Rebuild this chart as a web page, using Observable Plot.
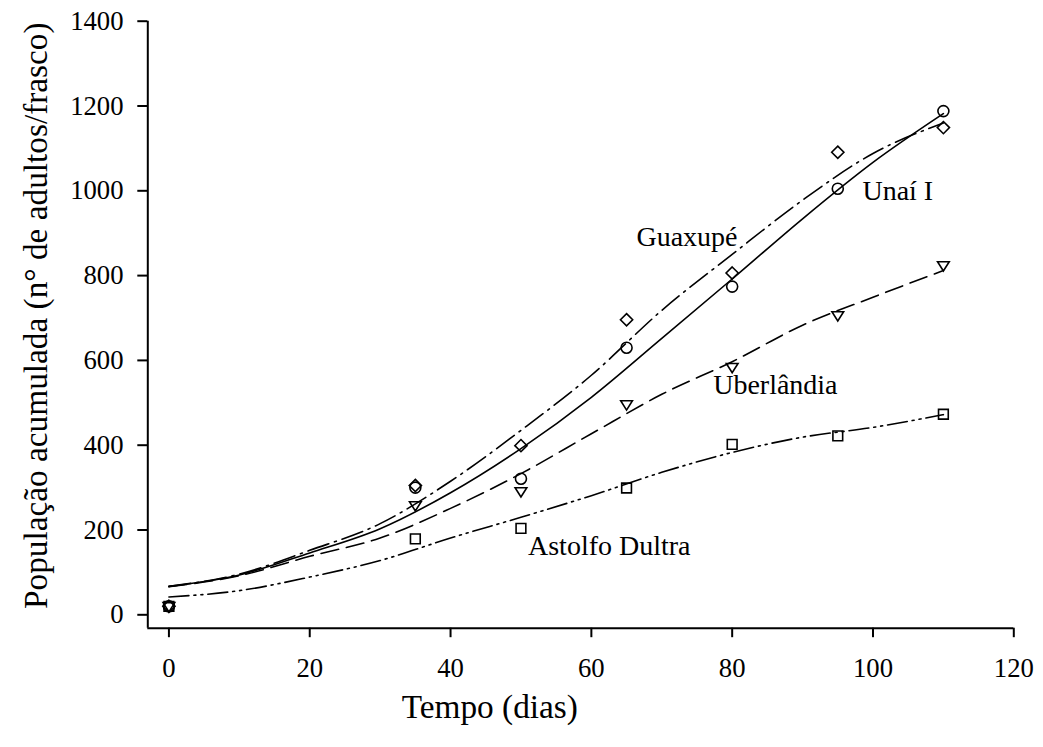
<!DOCTYPE html>
<html><head><meta charset="utf-8">
<script src="https://cdn.jsdelivr.net/npm/d3@7"></script>
<script src="https://cdn.jsdelivr.net/npm/@observablehq/plot@0.6"></script>
<style>
body{margin:0;background:#fff}
#chart{font-family:"Liberation Serif","Times New Roman",serif}
</style>
</head><body><div id="chart"></div>
<script>
// Observed points
const days = [0, 35, 50, 65, 80, 95, 110];
const unaiObs = [20, 300, 321, 630, 774, 1005, 1188];
const guaxupeObs = [20, 305, 399, 696, 806, 1091, 1149];
const uberlandiaObs = [20, 258, 291, 496, 584, 706, 824];
const astolfoObs = [20, 179, 204, 299, 402, 422, 473];

// Fitted curves
const fitDays = [0, 10, 20, 30, 40, 50, 60, 70, 80, 90, 100, 110];
const unaiFit = [67, 94, 146, 203, 288, 392, 513, 652, 792, 934, 1067, 1182];
const guaxupeFit = [67, 96, 152, 215, 315, 435, 565, 718, 850, 978, 1088, 1160];
const uberlandiaFit = [66, 92, 138, 181, 251, 333, 427, 520, 597, 683, 749, 812];
const astolfoFit = [42, 57, 89, 128, 181, 230, 281, 336, 383, 419, 442, 472];

// Series labels and their anchor positions (data units)
const seriesNames = ["Unaí I", "Guaxupé", "Uberlândia", "Astolfo Dultra"];
const labelX = [98.5, 66.4, 77.3, 51.0];
const labelY = [1000, 890, 543, 163];

const xTicks = [0, 20, 40, 60, 80, 100, 120];
const yTicks = [0, 200, 400, 600, 800, 1000, 1200, 1400];
const xDomain = [-3, 120];
const yDomain = [-31.6, 1400];
const xTitle = "Tempo (dias)";
const yTitle = "População acumulada (n° de adultos/frasco)";

const obs = [unaiObs, guaxupeObs, uberlandiaObs, astolfoObs];
const fits = [unaiFit, guaxupeFit, uberlandiaFit, astolfoFit];
const dashes = [null, "22,6,2,6", "18,8", "20,5,2,5,2,5"];

const triangleDown = {
  draw(context, size) {
    const s = Math.sqrt(size);
    const hw = s * 0.6, h = s * 0.95;
    context.moveTo(-hw, -h * 0.4);
    context.lineTo(hw, -h * 0.4);
    context.lineTo(0, h * 0.6);
    context.closePath();
  }
};
const symbols = ["circle", "diamond2", triangleDown, "square"];

const fitRows = (i) => fitDays.map((d, k) => ({x: d, y: fits[i][k]}));
const obsRows = (i) => days.map((d, k) => ({x: d, y: obs[i][k]}));
const labelRows = seriesNames.map((n, i) => ({name: n, x: labelX[i], y: labelY[i]}));

const FONT = "'Liberation Serif','Times New Roman',serif";
const marks = [];
for (let i = 0; i < 4; i++) {
  marks.push(Plot.line(fitRows(i), {
    x: "x", y: "y", stroke: "black", strokeWidth: 1.6,
    strokeDasharray: dashes[i] || undefined, curve: "monotone-x"
  }));
}
for (const i of [3, 2, 0, 1]) {
  marks.push(Plot.dot(obsRows(i), {
    x: "x", y: "y", symbol: symbols[i], r: 5.5,
    stroke: "black", strokeWidth: 1.6, fill: "none"
  }));
}
marks.push(Plot.text(labelRows, {
  x: "x", y: "y", text: "name", textAnchor: "start", fontSize: 28, fontFamily: FONT, fill: "black"
}));
// axes lines and ticks
marks.push(Plot.ruleX([xDomain[0]], {stroke: "black", strokeWidth: 2}));
marks.push(Plot.ruleY([yDomain[0]], {stroke: "black", strokeWidth: 2}));
marks.push(Plot.axisY({ticks: yTicks, tickSize: 10, strokeWidth: 2, label: null, tickFormat: () => ""}));
marks.push(Plot.axisX({ticks: xTicks, tickSize: 9.5, strokeWidth: 2, label: null, tickFormat: () => ""}));
// tick labels
marks.push(Plot.text(yTicks, {x: xDomain[0], y: d => d, text: d => String(d), textAnchor: "end", lineAnchor: "middle", dx: -24.3, fontSize: 26.7, fontFamily: FONT, fill: "black"}));
marks.push(Plot.text(xTicks, {x: d => d, y: yDomain[0], text: d => String(d), textAnchor: "middle", lineAnchor: "middle", dy: 40, fontSize: 26.7, fontFamily: FONT, fill: "black"}));
// axis titles
marks.push(Plot.text([xTitle], {frameAnchor: "bottom", text: d => d, textAnchor: "middle", lineAnchor: "middle", dx: -91, dy: 79, fontSize: 33.3, fontFamily: FONT, fill: "black"}));
marks.push(Plot.text([yTitle], {frameAnchor: "left", text: d => d, textAnchor: "middle", lineAnchor: "middle", rotate: -90, dx: -111, dy: -9, fontSize: 33.3, fontFamily: FONT, fill: "black"}));

const chart = Plot.plot({
  width: 1043,
  height: 747,
  marginLeft: 147.3,
  marginRight: 29.7,
  marginTop: 20.7,
  marginBottom: 119.3,
  x: {domain: xDomain},
  y: {domain: yDomain},
  style: {fontFamily: FONT, fontSize: "26.7px", color: "black", background: "white"},
  marks
});
document.getElementById("chart").appendChild(chart);
</script>
</body></html>
